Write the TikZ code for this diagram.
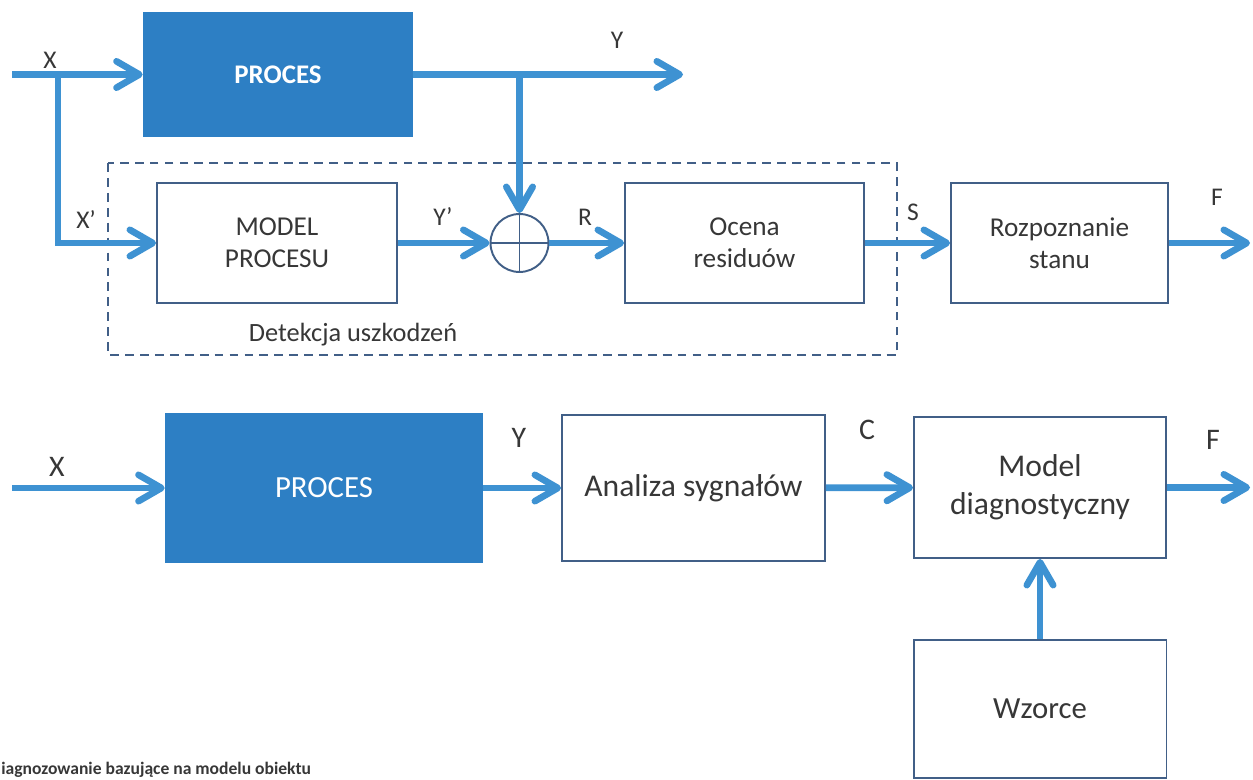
\documentclass[tikz,border=0pt]{standalone}
\usepackage{fontspec}
\setmainfont{Carlito}
\usepackage{tikz}
\usepackage{xcolor}
\usetikzlibrary{arrows.meta}

\definecolor{flowblue}{RGB}{62,146,210}
\definecolor{procblue}{RGB}{45,127,196}
\definecolor{edgeblue}{RGB}{65,95,135}
\definecolor{txtgray}{RGB}{55,55,55}

\begin{document}
\begin{tikzpicture}[x=0.02cm, y=-0.02cm,
        block/.style = {draw=edgeblue, line width=1.1pt, fill=white, text=txtgray, align=center, inner sep=0pt},
        procblock/.style = {fill=procblue, text=white, inner sep=0pt},
        lbl/.style = {text=txtgray, inner sep=0pt},
        flow/.style = {draw=flowblue, line width=3.8pt, >={Straight Barb[length=13pt,width=15pt,round]}}]
    \useasboundingbox (0,0) rectangle (1253,780);

    % diagnostyka z modelem procesu
    \begin{scope}[every node/.append style={font=\fontsize{15.5}{18.5}\selectfont}]
        \node[procblock, minimum width=5.4cm, minimum height=2.5cm, font=\fontsize{15.3}{18}\selectfont\bfseries] (proc1) at (278,74.5) {PROCES};
        \node[block, minimum width=4.8cm, minimum height=2.4cm] (model) at (277,243) {MODEL\\PROCESU};
        \node[draw=edgeblue, line width=1.1pt, circle, minimum size=1.16cm, inner sep=0pt] (sum) at (519.5,243) {};
        \node[block, minimum width=4.78cm, minimum height=2.4cm] (ocena) at (744.5,243) {Ocena\\residuów};
        \node[block, minimum width=4.34cm, minimum height=2.4cm] (rozp) at (1059.5,243) {Rozpoznanie\\stanu};
    \end{scope}
    \draw[edgeblue, line width=1.1pt] (sum.north) -- (sum.south) (sum.west) -- (sum.east);
    \draw[edgeblue, line width=1.4pt, dash pattern=on 5pt off 3.5pt] (108,163) rectangle (897,355);

    \coordinate (xin) at (12,74.5);
    \coordinate (xbr) at (58,74.5);
    \coordinate (ybr) at (519.5,74.5);
    \coordinate (yout) at (683,74.5);
    \coordinate (fout) at (1250,243);

    \begin{scope}[flow]
        \draw[->] (xin) -- (proc1);
        \draw[->] (xbr) |- (model);
        \draw[->] (proc1.east) -- (yout);
        \draw[->] (ybr) -- (sum.north);
        \draw[->] (model) -- (sum);
        \draw[->] (sum) -- (ocena);
        \draw[->] (ocena) -- (rozp);
        \draw[->] (rozp) -- (fout);
    \end{scope}

    \begin{scope}[every node/.style={lbl, font=\fontsize{14.5}{17}\selectfont}]
        \node (lx) at (50,60) {X};
        \node (lxp) at (86,220) {X’};
        \node (ly) at (617,40) {Y};
        \node (lyp) at (443,217) {Y’};
        \node (lr) at (585,217) {R};
        \node (ls) at (913,212) {S};
        \node (lf) at (1217,197) {F};
        \node[font=\fontsize{15}{18}\selectfont] (det) at (353,335) {Detekcja uszkodzeń};
    \end{scope}

    % diagnostyka z analiza sygnalow
    \begin{scope}[every node/.append style={font=\fontsize{18}{21.5}\selectfont}]
        \node[procblock, minimum width=6.36cm, minimum height=3cm, font=\fontsize{17.5}{21}\selectfont] (proc2) at (324,488) {PROCES};
        \node[block, minimum width=5.26cm, minimum height=2.92cm] (analiza) at (693.5,488) {Analiza sygnałów};
        \node[block, minimum width=5.04cm, minimum height=2.82cm] (diag) at (1040,487.5) {Model\\diagnostyczny};
        \node[block, minimum width=5.06cm, minimum height=2.76cm, font=\fontsize{17.5}{21}\selectfont] (wzorce) at (1040,709) {Wzorce};
    \end{scope}

    \coordinate (xin2) at (12,488);
    \coordinate (fout2) at (1250,487.5);

    \begin{scope}[flow]
        \draw[->] (xin2) -- (proc2);
        \draw[->] (proc2) -- (analiza);
        \draw[->] (analiza) -- (diag);
        \draw[->] (diag) -- (fout2);
        \draw[->] (wzorce) -- (diag);
    \end{scope}

    \begin{scope}[every node/.style={lbl, font=\fontsize{17}{20}\selectfont}]
        \node (lx2) at (57,467) {X};
        \node (ly2) at (519,438) {Y};
        \node (lc) at (867,430) {C};
        \node (lf2) at (1213,440) {F};
    \end{scope}

    \node[lbl, anchor=south west, font=\fontsize{10}{12}\selectfont\bfseries] (caption) at (1,778) {iagnozowanie bazujące na modelu obiektu};
\end{tikzpicture}
\end{document}
